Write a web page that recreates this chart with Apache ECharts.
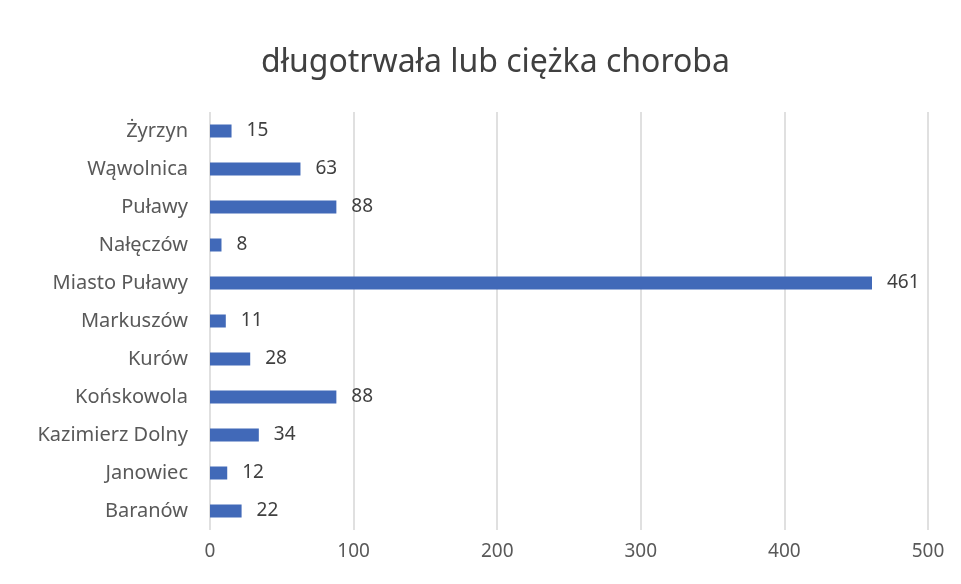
<!DOCTYPE html>
<html><head><meta charset="utf-8">
<script src="https://cdn.jsdelivr.net/npm/echarts@6/dist/echarts.min.js"></script>
<style>html,body{margin:0;padding:0;background:#fff}#c{width:961px;height:584px}</style>
</head><body><div id="c"></div>
<script>
var title = 'długotrwała lub ciężka choroba';
var categories = ['Baranów','Janowiec','Kazimierz Dolny','Końskowola','Kurów','Markuszów','Miasto Puławy','Nałęczów','Puławy','Wąwolnica','Żyrzyn'];
var values = [22,12,34,88,28,11,461,8,88,63,15];
var xTicks = [0,100,200,300,400,500];

var chart = echarts.init(document.getElementById('c'));
chart.setOption({
  backgroundColor:'#ffffff',
  animation:false,
  title:{text:title,left:256,top:42,textStyle:{fontFamily:'Noto Sans',fontSize:32,fontWeight:'normal',color:'#404040'}},
  grid:{left:210,right:33,top:112,bottom:54,containLabel:false},
  xAxis:{type:'value',min:xTicks[0],max:xTicks[xTicks.length-1],interval:100,
    axisLine:{show:false},axisTick:{show:false},
    splitLine:{lineStyle:{color:'#e0e0e0',width:2}},
    axisLabel:{fontFamily:'Noto Sans',fontSize:19,color:'#595959',margin:12}},
  yAxis:{type:'category',data:categories,
    axisLine:{show:false},axisTick:{show:false},
    axisLabel:{fontFamily:'Noto Sans',fontSize:20,color:'#595959',margin:22}},
  series:[{type:'bar',data:values,barWidth:13,
    itemStyle:{color:'#4169b8'},
    label:{show:true,position:'right',distance:15,fontFamily:'Noto Sans',fontSize:19,color:'#404040'}}]
});
</script></body></html>
